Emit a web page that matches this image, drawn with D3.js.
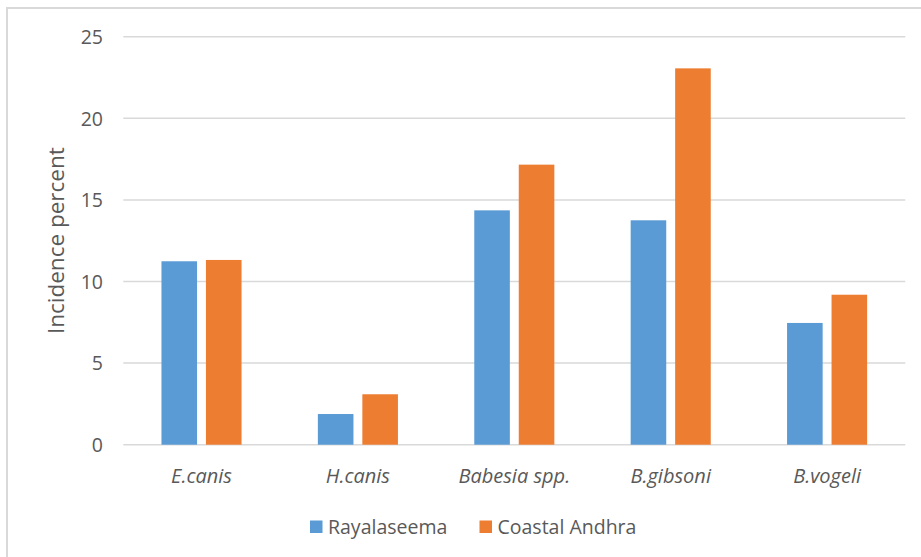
<!DOCTYPE html>
<html>
<head>
<meta charset="utf-8">
<script src="https://cdn.jsdelivr.net/npm/d3@7"></script>
<style>
  html, body { margin: 0; padding: 0; background: #fff; }
  svg { display: block; }
  text { font-family: "Open Sans", "Noto Sans", sans-serif; fill: #595959; }
</style>
</head>
<body>
<svg id="chart" width="921" height="557"></svg>
<script>
// Incidence of tick-borne pathogens by region
const categories = ["E.canis", "H.canis", "Babesia spp.", "B.gibsoni", "B.vogeli"];
const seriesNames = ["Rayalaseema", "Coastal Andhra"];
const rayalaseema = [11.24, 1.88, 14.36, 13.75, 7.46];
const coastalAndhra = [11.32, 3.09, 17.16, 23.06, 9.19];
const yTicks = [0, 5, 10, 15, 20, 25];
const colors = ["#5B9BD5", "#ED7D31"];

const values = [rayalaseema, coastalAndhra];
const rows = categories.map((c, i) => ({
  category: c,
  vals: seriesNames.map((s, k) => ({ series: s, k, value: values[k][i] }))
}));

const svg = d3.select("#chart");
const W = 921, H = 557;
const plot = { left: 123.3, right: 905.3, top: 36.7, bottom: 444.7 };

// Chart area frame
svg.append("rect")
  .attr("x", 7).attr("y", 8)
  .attr("width", W + 20).attr("height", H + 20)
  .attr("fill", "#fff")
  .attr("stroke", "#d9d9d9").attr("stroke-width", 2);

const y = d3.scaleLinear().domain([0, 25]).range([plot.bottom, plot.top]);

const x0 = d3.scaleBand()
  .domain(categories)
  .range([plot.left, plot.right])
  .paddingInner(0.488)
  .paddingOuter(0.244);

const x1 = d3.scaleBand()
  .domain(seriesNames)
  .range([0, x0.bandwidth()])
  .paddingInner(0.2);

// Horizontal gridlines
svg.append("g")
  .selectAll("line")
  .data(yTicks)
  .join("line")
  .attr("x1", plot.left).attr("x2", plot.right)
  .attr("y1", d => y(d)).attr("y2", d => y(d))
  .attr("stroke", "#d9d9d9").attr("stroke-width", 1.5);

// Y axis tick labels
const yAxis = d3.axisLeft(y).tickValues(yTicks).tickSize(0).tickPadding(0);
const gy = svg.append("g")
  .attr("transform", `translate(103,0)`)
  .call(yAxis);
gy.select(".domain").remove();
gy.selectAll("text")
  .attr("font-size", 19.5)
  .attr("font-family", null)
  .attr("fill", "#595959")
  .attr("text-anchor", "end")
  .attr("dy", "0.35em");

// Bars
svg.append("g")
  .selectAll("g")
  .data(rows)
  .join("g")
  .attr("transform", d => `translate(${x0(d.category)},0)`)
  .selectAll("rect")
  .data(d => d.vals)
  .join("rect")
  .attr("x", d => x1(d.series))
  .attr("width", x1.bandwidth())
  .attr("y", d => y(d.value))
  .attr("height", d => y(0) - y(d.value))
  .attr("fill", d => colors[d.k]);

// Category labels
const xAxis = d3.axisBottom(x0).tickSize(0).tickPadding(0);
const gx = svg.append("g")
  .attr("transform", `translate(0,${plot.bottom})`)
  .call(xAxis);
gx.select(".domain").remove();
gx.selectAll("text")
  .attr("font-size", 20)
  .attr("font-family", null)
  .attr("font-style", "italic")
  .attr("fill", "#595959")
  .attr("y", 38)
  .attr("dy", null);

// Y axis title
svg.append("text")
  .attr("transform", `translate(64,${(plot.top + plot.bottom) / 2}) rotate(-90)`)
  .attr("text-anchor", "middle")
  .attr("font-size", 22.5)
  .text("Incidence percent");

// Legend
const legendItems = [
  { name: seriesNames[0], color: colors[0], x: 310 },
  { name: seriesNames[1], color: colors[1], x: 479.5 }
];
const lg = svg.append("g").selectAll("g").data(legendItems).join("g")
  .attr("transform", d => `translate(${d.x},520.5)`);
lg.append("rect").attr("width", 12.5).attr("height", 12.5).attr("fill", d => d.color);
lg.append("text")
  .attr("x", 18).attr("y", 6.5).attr("dy", "0.35em")
  .attr("font-size", 19.5)
  .text(d => d.name);
</script>
</body>
</html>
